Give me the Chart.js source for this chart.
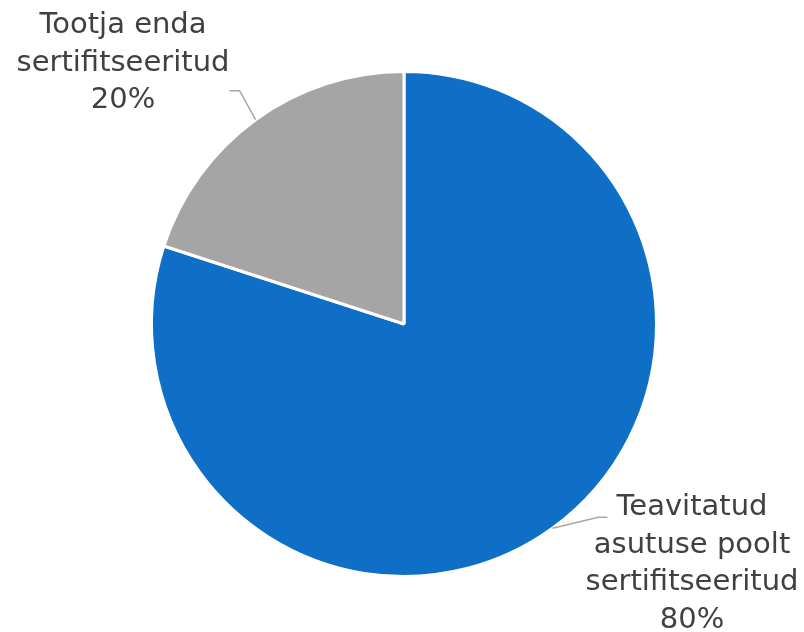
<!DOCTYPE html>
<html>
<head>
<meta charset="utf-8">
<script src="https://cdn.jsdelivr.net/npm/chart.js@4/dist/chart.umd.min.js"></script>
<style>
  html, body { margin: 0; padding: 0; background: #fff; }
  #wrap { width: 804px; height: 632px; }
</style>
</head>
<body>
<div id="wrap"><canvas id="pie"></canvas></div>
<script>
// andmed
const categories = [
  ['Teavitatud', 'asutuse poolt', 'sertifitseeritud'],
  ['Tootja enda', 'sertifitseeritud']
];
const values = [80, 20];
const colors = ['#0F6FC6', '#A5A5A5'];

// sildi paigutus: kink dx/dy, joone ots dx, teksti keskpunkt x, esimese rea y
const labelPos = [
  { kx: 46, ky: -11, ex: 55, tx: 692, ty: 493 },
  { kx: -16, ky: -29, ex: -26, tx: 123, ty: 11 }
];

const leaderLabels = {
  id: 'leaderLabels',
  afterDatasetsDraw(chart) {
    const ctx = chart.ctx;
    const meta = chart.getDatasetMeta(0);
    const total = values.reduce((a, b) => a + b, 0);
    ctx.save();
    meta.data.forEach((arc, i) => {
      const p = arc.getProps(['x', 'y', 'startAngle', 'endAngle', 'outerRadius']);
      const mid = (p.startAngle + p.endAngle) / 2;
      const sx = p.x + Math.cos(mid) * p.outerRadius;
      const sy = p.y + Math.sin(mid) * p.outerRadius;
      const lp = labelPos[i];
      ctx.strokeStyle = '#A6A6A6';
      ctx.lineWidth = 1.5;
      ctx.beginPath();
      ctx.moveTo(sx, sy);
      ctx.lineTo(sx + lp.kx, sy + lp.ky);
      ctx.lineTo(sx + lp.ex, sy + lp.ky);
      ctx.stroke();

      ctx.fillStyle = '#404040';
      ctx.font = '29px "DejaVu Sans", sans-serif';
      ctx.textAlign = 'center';
      ctx.textBaseline = 'top';
      const lines = categories[i].concat([Math.round(values[i] / total * 100) + '%']);
      lines.forEach((t, j) => {
        ctx.fillText(t, lp.tx, lp.ty + j * 37.5);
      });
    });
    ctx.restore();
  }
};

new Chart(document.getElementById('pie'), {
  type: 'pie',
  data: {
    labels: categories.map(c => c.join(' ')),
    datasets: [{
      data: values,
      backgroundColor: colors,
      borderColor: '#ffffff',
      borderWidth: 3
    }]
  },
  options: {
    responsive: true,
    maintainAspectRatio: false,
    animation: false,
    layout: { padding: { top: 70, bottom: 54, left: 150, right: 146 } },
    plugins: {
      legend: { display: false },
      tooltip: { enabled: false }
    }
  },
  plugins: [leaderLabels]
});
</script>
</body>
</html>
